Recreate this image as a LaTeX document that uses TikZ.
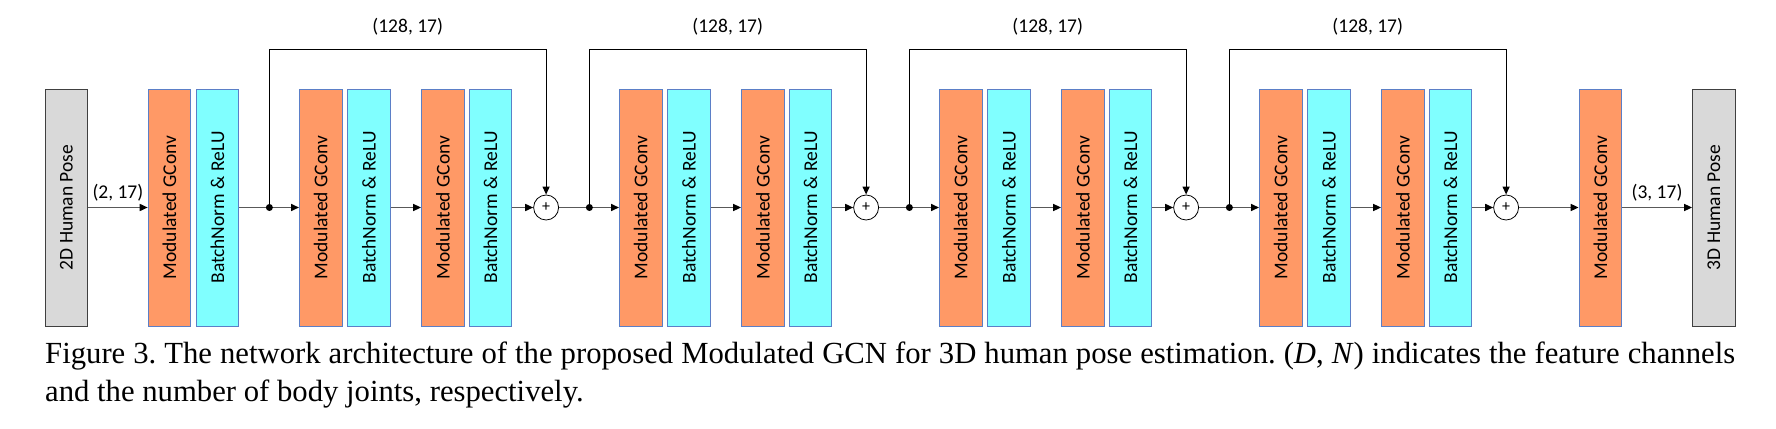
\documentclass[tikz,border=0pt]{standalone}
\usepackage{fontspec}
\setmainfont{Liberation Serif}
\newfontfamily\carl{Carlito}
\usetikzlibrary{arrows.meta}
\definecolor{orangeF}{RGB}{255,153,102}
\definecolor{cyanF}{RGB}{128,255,255}
\definecolor{boxB}{RGB}{91,127,199}
\definecolor{grayF}{RGB}{217,217,217}
\definecolor{grayB}{RGB}{64,64,64}
\definecolor{lineC}{RGB}{89,89,89}
\begin{document}
\frenchspacing
\begin{tikzpicture}[x=1pt,y=-1pt,
  blk/.style={draw=boxB, line width=0.9pt, minimum width=42.5pt, minimum height=237pt, inner sep=0pt, font=\carl\fontsize{19.5}{23}\selectfont},
  gc/.style={blk, fill=orangeF},
  bn/.style={blk, fill=cyanF},
  pose/.style={blk, draw=grayB, fill=grayF},
  dotn/.style={circle, fill=black, inner sep=0pt, minimum size=7pt},
  addn/.style={circle, draw=black, fill=white, inner sep=0pt, minimum size=25pt, line width=0.8pt, font=\carl\fontsize{16}{16}\selectfont},
  mainline/.style={draw=lineC, line width=1.6pt},
  flow/.style={mainline, -{Triangle[length=8pt,width=7pt,color=black]}},
  skip/.style={draw=black, line width=1.2pt, -{Triangle[length=8pt,width=7pt]}},
  lab/.style={anchor=base, inner sep=0pt, font=\carl\fontsize{19.5}{23}\selectfont},
  captxt/.style={anchor=base west, inner sep=0pt, font=\fontsize{30.7}{38}\selectfont}
]
\useasboundingbox (0,0) rectangle (1776,428);
\coordinate (top) at (0,49.3);

\node[pose] (in) at (66.3,207.5) {\rotatebox{90}{2D Human Pose}};
\node[gc] (g0) at (169.4,207.5) {\rotatebox{90}{Modulated GConv}};
\node[bn] (b0) at (217.4,207.5) {\rotatebox{90}{BatchNorm \& ReLU}};

\foreach \k in {1,...,4}{
  \pgfmathsetmacro\d{269.4+320*(\k-1)}
  \node[dotn] (d\k) at (\d,207.5) {};
  \node[gc] (ga\k) at (\d+51.3,207.5) {\rotatebox{90}{Modulated GConv}};
  \node[bn] (ba\k) at (\d+99.5,207.5) {\rotatebox{90}{BatchNorm \& ReLU}};
  \node[gc] (gb\k) at (\d+173.4,207.5) {\rotatebox{90}{Modulated GConv}};
  \node[bn] (bb\k) at (\d+221,207.5) {\rotatebox{90}{BatchNorm \& ReLU}};
  \node[addn] (p\k) at (\d+276.7,207.5) {+};
  \node[lab] (s\k) at (\d+138.3,32.3) {(128, 17)};
}

\node[gc] (g5) at (1600.3,207.5) {\rotatebox{90}{Modulated GConv}};
\node[pose] (out) at (1713.8,207.5) {\rotatebox{90}{3D Human Pose}};

\node[lab] (l0) at (117.9,198.3) {(2, 17)};
\node[lab] (l5) at (1657,198.8) {(3, 17)};

\draw[flow] (in) -- (g0);
\draw[mainline] (b0) -- (d1);
\foreach \k in {1,...,4}{
  \draw[flow] (d\k) -- (ga\k);
  \draw[flow] (ba\k) -- (gb\k);
  \draw[flow] (bb\k) -- (p\k);
  \draw[skip] (d\k) -- (d\k |- top) -| (p\k);
}
\foreach \k/\n in {1/2,2/3,3/4}{
  \draw[mainline] (p\k) -- (d\n);
}
\draw[flow] (p4) -- (g5);
\draw[flow] (g5) -- (out);

\node[captxt] (cap1) at (45,363.3) {\makebox[1690pt][s]{Figure 3. The network architecture of the proposed Modulated GCN for 3D human pose estimation. (\textit{D}, \textit{N}) indicates the feature channels}};
\node[captxt] (cap2) at (45,401.7) {and the number of body joints, respectively.};
\end{tikzpicture}
\end{document}
